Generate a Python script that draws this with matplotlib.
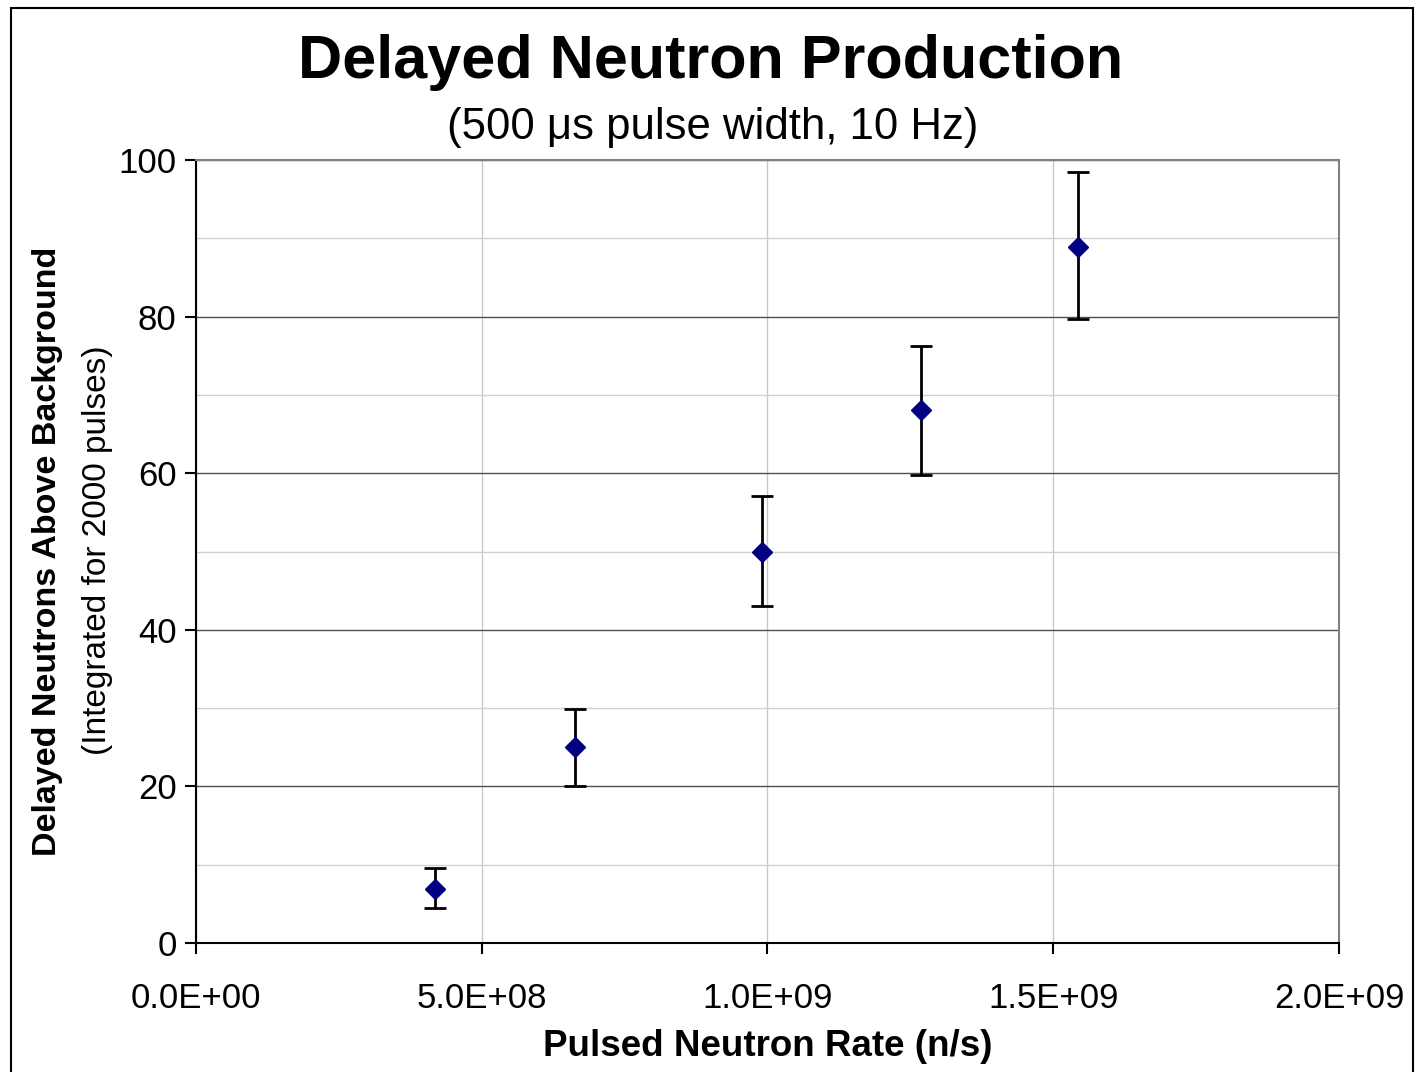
import matplotlib
matplotlib.use("Agg")
import matplotlib.pyplot as plt
from matplotlib.patches import Rectangle
from matplotlib.ticker import MultipleLocator, FuncFormatter

plt.rcParams['font.family'] = ['Liberation Sans', 'DejaVu Sans']

# data
rate = [0.418e9, 0.663e9, 0.991e9, 1.268e9, 1.543e9]
neutrons = [6.9, 25.1, 49.9, 68.1, 88.9]
err_low = [2.4, 5.1, 6.9, 8.3, 9.2]
err_high = [2.7, 4.8, 7.2, 8.1, 9.6]

fig = plt.figure(figsize=(14.16, 10.72), dpi=100)
ax = fig.add_axes([0.1384, 0.1203, 0.8072, 0.7304])

# outer frame
fig.patches.append(Rectangle((0.008, -0.01), 0.99, 1.0025, transform=fig.transFigure,
                             fill=False, edgecolor='black', linewidth=1.5))

ax.errorbar(rate, neutrons, yerr=[err_low, err_high], fmt='D', color='#000080',
            markersize=10.5, ecolor='black', elinewidth=2, capsize=8, capthick=2, zorder=3)

ax.set_xlim(0, 2e9)
ax.set_ylim(0, 100)
ax.yaxis.set_major_locator(MultipleLocator(20))
ax.yaxis.set_minor_locator(MultipleLocator(10))
ax.xaxis.set_major_locator(MultipleLocator(0.5e9))
ax.xaxis.set_major_formatter(FuncFormatter(lambda v, p: '%.1E' % v))

ax.grid(which='major', axis='y', color='#505050', linewidth=1)
ax.grid(which='minor', axis='y', color='#d0d0d0', linewidth=1)
ax.grid(which='major', axis='x', color='#c8c8c8', linewidth=1)
ax.set_axisbelow(True)

for s in ['top', 'right']:
    ax.spines[s].set_color('#808080')
    ax.spines[s].set_linewidth(1.5)
for s in ['left', 'bottom']:
    ax.spines[s].set_linewidth(1.5)

ax.tick_params(which='major', direction='out', length=8, width=1.5, labelsize=25, pad=6)
ax.tick_params(which='minor', length=0)
ax.tick_params(axis='x', pad=20)

ax.set_xlabel('Pulsed Neutron Rate (n/s)', fontsize=26.5, fontweight='bold', labelpad=10)

fig.text(0.0335, 0.486, 'Delayed Neutrons Above Background', rotation=90, fontsize=24.5,
         fontweight='bold', ha='center', va='center')
fig.text(0.069, 0.487, '(Integrated for 2000 pulses)', rotation=90, fontsize=24,
         ha='center', va='center')

fig.text(0.502, 0.942, 'Delayed Neutron Production', fontsize=44, fontweight='bold',
         ha='center', va='center')
fig.text(0.503, 0.881, '(500 μs pulse width, 10 Hz)', fontsize=31.5,
         ha='center', va='center')

fig.savefig('out.png', dpi=100)
